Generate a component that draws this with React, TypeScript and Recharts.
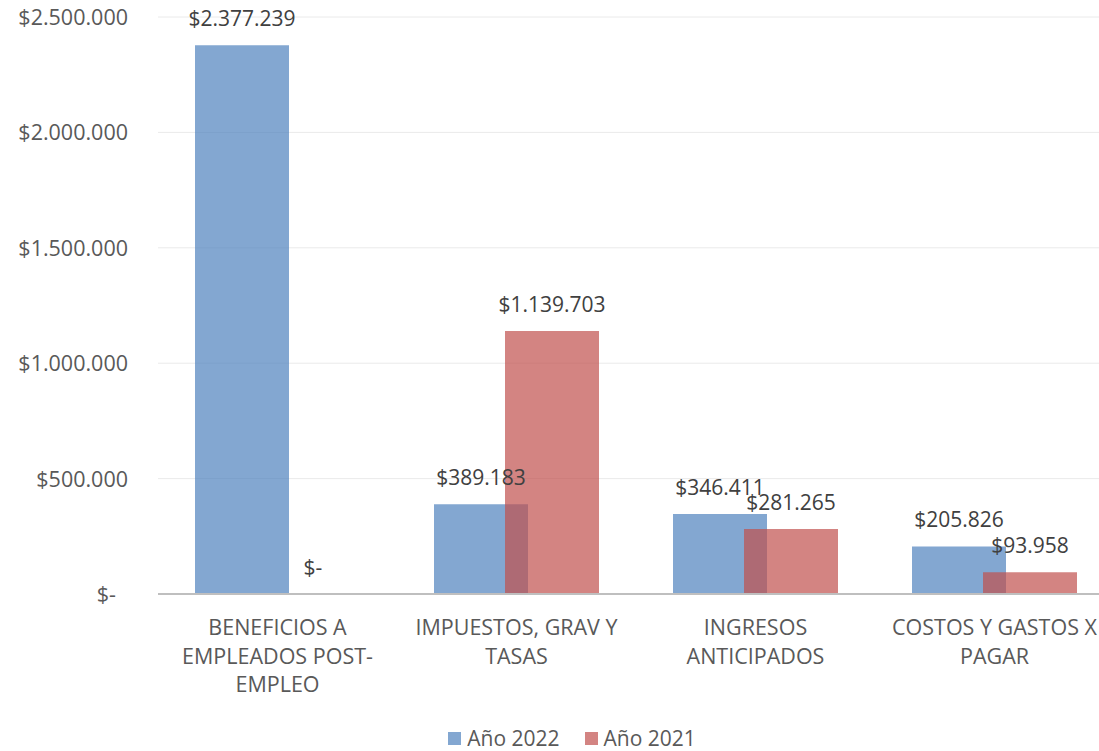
import { BarChart, Bar, XAxis, YAxis, CartesianGrid, Legend, LabelList } from "recharts"

const categories = [
  "BENEFICIOS A\nEMPLEADOS POST-\nEMPLEO",
  "IMPUESTOS, GRAV Y\nTASAS",
  "INGRESOS\nANTICIPADOS",
  "COSTOS Y GASTOS X\nPAGAR",
]
const year2022 = [2377239, 389183, 346411, 205826]
const year2021 = [0, 1139703, 281265, 93958]
const yTicks = [0, 500000, 1000000, 1500000, 2000000, 2500000]
const seriesNames = ["Año 2022", "Año 2021"]
const seriesColors = ["#4F81BD", "#C0504D"]

const data = categories.map((name, i) => ({
  name,
  y2022: year2022[i],
  y2021: year2021[i],
}))

const FONT = "'Open Sans', sans-serif"

const money = (v: number) =>
  v === 0 ? "$-" : "$" + String(Math.round(v)).replace(/\B(?=(\d{3})+(?!\d))/g, ".")

function YTick(props: any) {
  const { x, y, payload } = props
  const zero = payload.value === 0
  return (
    <text x={x} y={y} dx={zero ? -12 : 0} dy={8} textAnchor="end" fill="#595959" fontSize={21.5} fontFamily={FONT}>
      {money(payload.value)}
    </text>
  )
}

function XTick(props: any) {
  const { x, y, payload } = props
  const lines = String(payload.value).split("\n")
  return (
    <text x={x} y={y} textAnchor="middle" fill="#595959" fontSize={21.5} fontFamily={FONT}>
      {lines.map((l, i) => (
        <tspan key={i} x={x} y={y + 41 + i * 28.7}>
          {l}
        </tspan>
      ))}
    </text>
  )
}

function LegendBox() {
  return (
    <div
      style={{
        display: "flex",
        justifyContent: "center",
        alignItems: "center",
        height: 30,
        fontFamily: FONT,
        fontSize: 21,
        color: "#595959",
      }}
    >
      {seriesNames.map((n, i) => (
        <div key={n} style={{ display: "flex", alignItems: "center", marginLeft: i ? 25 : 0 }}>
          <span style={{ width: 13, height: 13, background: seriesColors[i], opacity: 0.7, marginRight: 6 }} />
          <span>{n}</span>
        </div>
      ))}
    </div>
  )
}

export default function App() {
  return (
    <div style={{ position: "absolute", left: 0, top: 0, width: 1099, height: 751, overflow: "hidden", background: "#fff" }}>
      <BarChart
        width={1114}
        height={751}
        data={data}
        margin={{ top: 17, right: 0, left: 0, bottom: 0 }}
        barSize={94}
        barGap={-23}
      >
        <CartesianGrid vertical={false} stroke="#EAEAEA" />
        <XAxis
          dataKey="name"
          interval={0}
          height={127}
          tickLine={false}
          tickSize={0}
          tickMargin={0}
          axisLine={{ stroke: "#BFBFBF", strokeWidth: 2 }}
          tick={<XTick />}
        />
        <YAxis
          type="number"
          domain={[0, 2500000]}
          ticks={yTicks}
          width={158}
          axisLine={false}
          tickLine={false}
          tickSize={0}
          tickMargin={30}
          tick={<YTick />}
        />
        <Legend verticalAlign="bottom" content={<LegendBox />} wrapperStyle={{ left: 0, width: 1144, bottom: -2 }} />
        <Bar dataKey="y2022" name={seriesNames[0]} fill={seriesColors[0]} fillOpacity={0.7} isAnimationActive={false}>
          <LabelList dataKey="y2022" position="top" offset={19} formatter={(v: any) => money(Number(v))} fill="#404040" fontSize={21} fontFamily={FONT} />
        </Bar>
        <Bar dataKey="y2021" name={seriesNames[1]} fill={seriesColors[1]} fillOpacity={0.7} minPointSize={0.01} isAnimationActive={false}>
          <LabelList dataKey="y2021" position="top" offset={19} formatter={(v: any) => money(Number(v))} fill="#404040" fontSize={21} fontFamily={FONT} />
        </Bar>
      </BarChart>
    </div>
  )
}
